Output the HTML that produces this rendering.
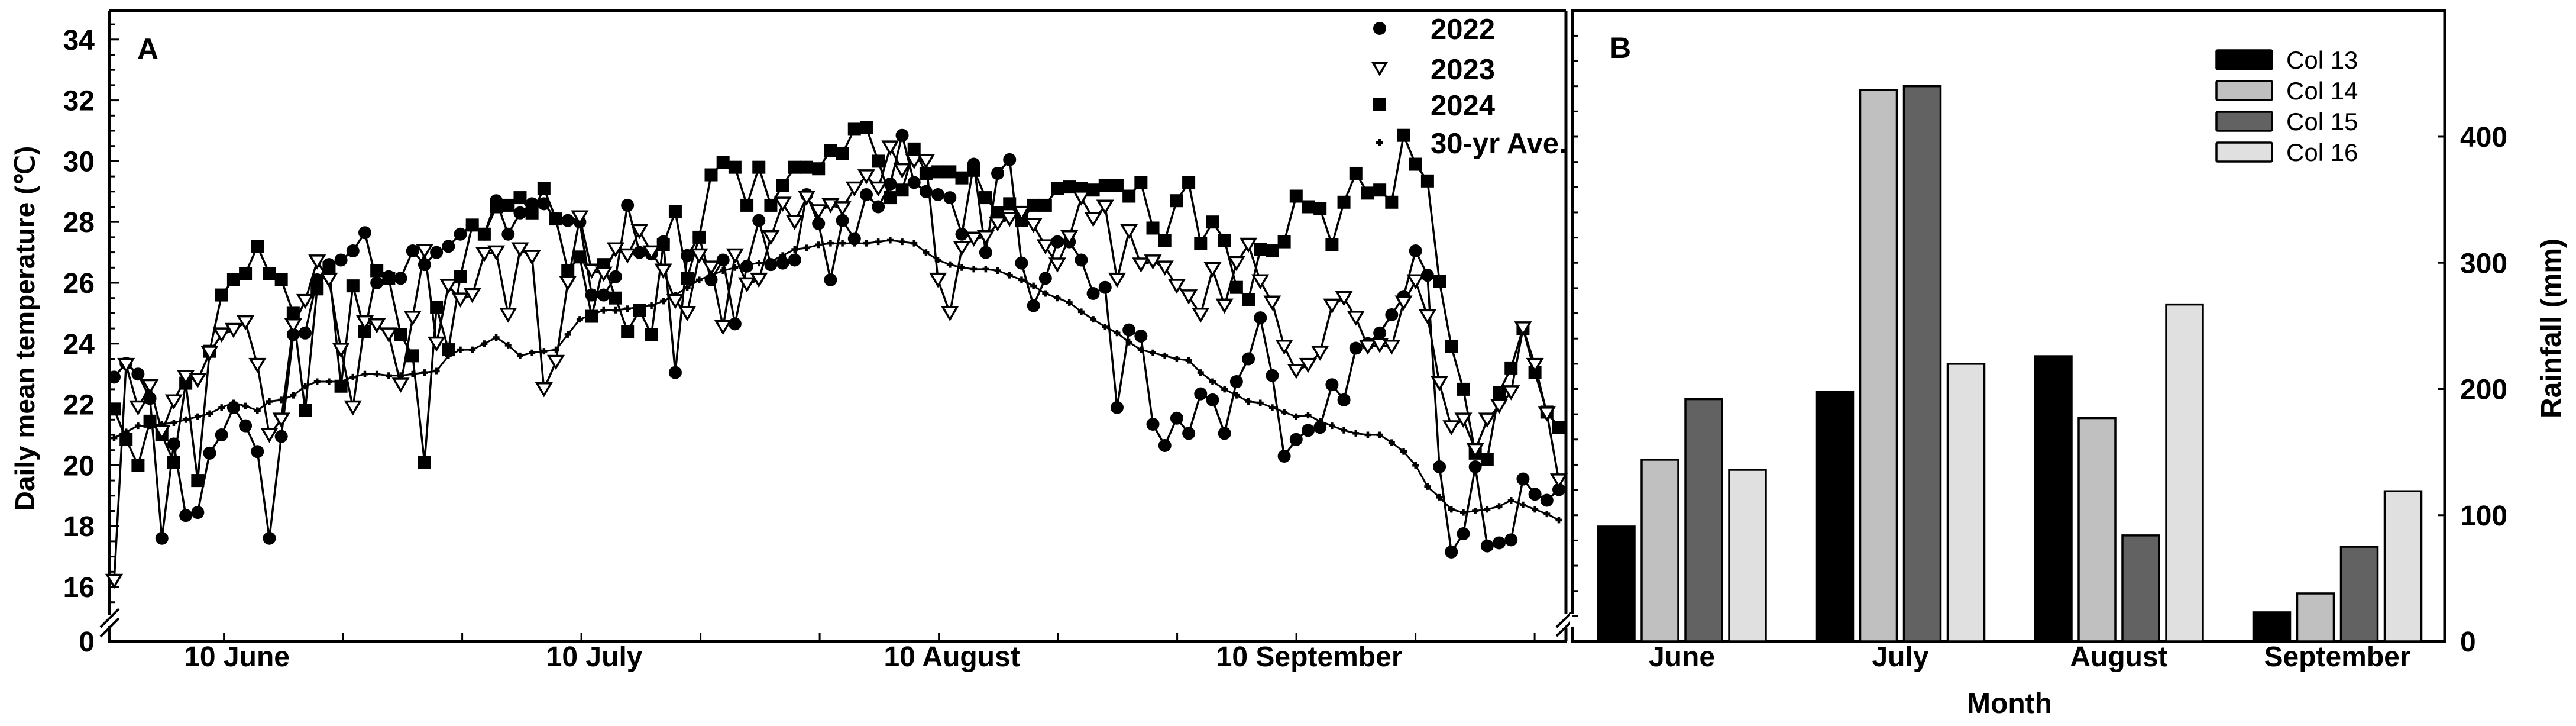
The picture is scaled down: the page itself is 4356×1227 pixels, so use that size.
<!DOCTYPE html>
<html><head><meta charset="utf-8"><style>
html,body{margin:0;padding:0;background:#fff;}
svg{display:block;font-family:"Liberation Sans",Arial,sans-serif;}
</style></head><body>
<svg id="chart" width="4356" height="1227" viewBox="0 0 4356 1227" xmlns="http://www.w3.org/2000/svg">
<g id="panelA"></g>
<g id="panelB"></g>
</svg>
<script>
// ---- Panel A data ----
const xTickLabels = ["10 June", "10 July", "10 August", "10 September"];
const yTicksA = [16, 18, 20, 22, 24, 26, 28, 30, 32, 34];
const t2022 = [22.9,23.35,23.0,22.2,17.6,20.7,18.35,18.45,20.4,21.0,21.9,21.3,20.45,17.6,20.95,24.3,24.35,26.1,26.6,26.75,27.05,27.65,26.0,26.2,26.15,27.05,26.6,27.0,27.2,27.6,27.9,27.6,28.7,27.6,28.3,28.6,28.6,28.1,28.05,28.0,25.6,25.6,26.2,28.55,27.0,26.95,27.35,23.05,26.9,27.5,26.1,26.75,24.65,26.55,28.05,26.6,26.65,26.75,28.9,27.95,26.1,28.05,27.45,28.9,28.5,29.25,30.85,29.3,29.0,28.9,28.8,27.6,29.9,27.0,29.6,30.05,26.65,25.25,26.15,27.35,27.35,26.75,25.65,25.85,21.9,24.45,24.25,21.35,20.65,21.55,21.05,22.35,22.15,21.05,22.75,23.5,24.85,22.95,20.3,20.85,21.15,21.25,22.65,22.15,23.85,24.0,24.35,24.95,25.55,27.05,26.25,19.95,17.15,17.75,19.95,17.35,17.45,17.55,19.55,19.05,18.85,19.2];
const t2023 = [16.2,23.3,21.9,22.6,21.1,22.1,22.9,22.8,23.7,24.3,24.45,24.7,23.3,21.0,21.5,24.6,25.4,26.7,26.1,23.8,21.9,24.7,24.6,24.3,22.65,24.85,27.05,24.0,25.9,25.45,25.6,26.95,27.0,24.95,27.1,26.85,22.5,23.4,26.0,28.15,26.4,26.3,27.1,26.9,27.7,27.0,26.4,25.4,25.0,26.9,26.5,24.55,26.9,25.95,26.1,27.5,28.6,28.0,28.8,28.35,28.55,28.45,29.1,29.5,29.1,30.45,29.7,30.0,30.0,26.1,25.0,27.15,27.45,27.5,27.95,28.1,28.3,27.9,27.2,26.6,27.5,28.8,28.1,28.5,26.1,27.7,26.6,26.7,26.5,25.9,25.55,24.95,26.45,25.25,26.65,27.25,26.05,25.35,23.9,23.1,23.3,23.7,25.25,25.5,24.85,23.9,23.95,23.9,25.35,26.05,24.9,22.7,21.25,21.5,20.5,21.5,21.95,22.4,24.5,23.3,21.7,19.5];
const t2024 = [21.85,20.85,20.0,21.45,21.0,20.1,22.7,19.5,23.75,25.6,26.1,26.3,27.2,26.3,26.1,25.0,21.8,25.8,26.5,22.6,25.9,24.4,26.4,26.15,24.3,23.6,20.1,25.2,23.8,26.2,27.9,27.6,28.5,28.55,28.8,28.3,29.1,28.1,26.4,26.85,24.9,26.6,25.5,24.4,25.1,24.3,27.25,28.35,26.15,27.5,29.55,29.95,29.8,28.55,29.8,28.55,29.2,29.8,29.8,29.75,30.35,30.25,31.05,31.1,30.0,28.8,29.05,30.4,29.6,29.65,29.65,29.45,29.7,28.8,28.3,28.6,28.05,28.55,28.55,29.1,29.15,29.1,29.05,29.2,29.2,28.85,29.3,27.8,27.4,28.7,29.3,27.3,28.0,27.4,25.85,25.45,27.1,27.05,27.35,28.85,28.5,28.45,27.25,28.65,29.6,28.95,29.05,28.65,30.85,29.9,29.35,26.05,23.9,22.5,20.4,20.2,22.4,23.2,24.5,23.05,21.75,21.25];
const tAve = [20.9,21.1,21.3,21.3,21.35,21.4,21.5,21.6,21.7,21.9,22.05,21.95,21.8,22.1,22.15,22.3,22.6,22.75,22.75,22.75,22.9,23.0,23.0,22.95,22.95,23.0,23.05,23.1,23.6,23.8,23.8,24.0,24.2,23.95,23.6,23.7,23.75,23.8,24.3,24.8,24.95,25.1,25.1,25.15,25.2,25.25,25.4,25.6,25.85,26.1,26.25,26.4,26.5,26.6,26.65,26.7,26.9,27.1,27.15,27.25,27.3,27.3,27.3,27.3,27.35,27.4,27.35,27.3,27.0,26.75,26.6,26.5,26.45,26.45,26.4,26.25,26.1,25.9,25.65,25.5,25.35,25.05,24.8,24.55,24.35,24.05,23.8,23.7,23.6,23.5,23.45,23.05,22.75,22.5,22.3,22.1,22.05,21.9,21.75,21.6,21.65,21.45,21.3,21.15,21.05,21.0,21.0,20.75,20.45,20.0,19.3,18.95,18.55,18.45,18.5,18.55,18.65,18.85,18.7,18.55,18.4,18.2];
const legendA = ["2022", "2023", "2024", "30-yr Ave."];

// ---- Panel B data ----
const months = ["June", "July", "August", "September"];
const seriesB = ["Col 13", "Col 14", "Col 15", "Col 16"];
const col13 = [91, 198, 226, 23];
const col14 = [144, 437, 177, 38];
const col15 = [192, 440, 84, 75];
const col16 = [136, 220, 267, 119];
const yTicksB = [0, 100, 200, 300, 400];

const NS = "http://www.w3.org/2000/svg";
function mk(parent, tag, attrs, text) {
  const e = document.createElementNS(NS, tag);
  for (const k in attrs) e.setAttribute(k, attrs[k]);
  if (text !== undefined) e.textContent = text;
  parent.appendChild(e);
  return e;
}

// ---------- Panel A ----------
const A = document.getElementById('panelA');
const AL = 185, AR = 2648, AT = 18, AB = 1084;
const xA = i => 193 + i * 20.19;
const yA = t => 992 - (t - 16) * 51.4;

// frame
let el;
el = mk(A, 'line', {x1: AL, y1: AT, x2: AR, y2: AT, stroke: '#000', 'stroke-width': 5});


el = mk(A, 'line', {x1: AR, y1: AT, x2: AR, y2: 1038, stroke: '#000', 'stroke-width': 5});


el = mk(A, 'line', {x1: AR, y1: 1062, x2: AR, y2: AB, stroke: '#000', 'stroke-width': 5});


el = mk(A, 'line', {x1: AL, y1: AT, x2: AL, y2: 1040, stroke: '#000', 'stroke-width': 5});


el = mk(A, 'line', {x1: AL, y1: 1058, x2: AL, y2: AB, stroke: '#000', 'stroke-width': 5});


el = mk(A, 'line', {x1: AL - 2, y1: AB, x2: AR + 2, y2: AB, stroke: '#000', 'stroke-width': 5});


// axis breaks
el = mk(A, 'path', {d: 'M170 1060 L201 1029 M170 1076 L201 1045', stroke: '#000', 'stroke-width': 4, fill: 'none'});


el = mk(A, 'path', {d: 'M2632 1060 L2660 1033 M2632 1075 L2660 1048', stroke: '#000', 'stroke-width': 4, fill: 'none'});



// y ticks
for (let t = 15.5; t <= 34.51; t += 0.5) {
  const major = Math.abs(t - Math.round(t)) < 0.01 && Math.round(t) % 2 === 0;
  el = mk(A, 'line', {x1: AL, y1: yA(t), x2: AL + (major ? 16 : 10), y2: yA(t), stroke: '#000', 'stroke-width': 3});
  
  
}
yTicksA.forEach(v => {
  el = mk(A, 'text', {x: 160, y: yA(v) + 17, 'text-anchor': 'end', 'font-size': 48, 'font-weight': 'bold'}, String(v));
  
  
});
el = mk(A, 'text', {x: 160, y: AB + 17, 'text-anchor': 'end', 'font-size': 48, 'font-weight': 'bold'}, '0');


// x ticks
for (let k = 0; k < 12; k++) {
  const x = 378.6 + k * 201.5;
  el = mk(A, 'line', {x1: x, y1: AB, x2: x, y2: AB - 15, stroke: '#000', 'stroke-width': 3});
  
  
}
xTickLabels.forEach((lab, j) => {
  const x = 378.6 + j * 3 * 201.5 + 22;
  el = mk(A, 'text', {x: x, y: 1126, 'text-anchor': 'middle', 'font-size': 48, 'font-weight': 'bold'}, lab);
  
  
});
el = mk(A, 'text', {x: 0, y: 0, 'text-anchor': 'middle', 'font-size': 46, 'font-weight': 'bold', transform: 'translate(58,555) rotate(-90)'}, 'Daily mean temperature (℃)');


el = mk(A, 'text', {x: 232, y: 100, 'font-size': 50, 'font-weight': 'bold'}, 'A');



function line(parent, data, w, name) {
  const pts = data.map((v, i) => xA(i).toFixed(1) + ',' + yA(v).toFixed(1)).join(' ');
  const p = mk(parent, 'polyline', {points: pts, fill: 'none', stroke: '#000', 'stroke-width': w, 'stroke-linejoin': 'round'});
  
  
}
function circle(g, x, y, r) {
  const c = mk(g, 'circle', {cx: x, cy: y, r: r, fill: '#000'});
  
  
}
function tri(g, x, y, s, name) {
  const h = s * 0.85;
  const t = mk(g, 'polygon', {points: `${x - s / 2},${y - h / 2} ${x + s / 2},${y - h / 2} ${x},${y + h / 2}`, fill: '#fff', stroke: '#000', 'stroke-width': 3.5});
  
  
}
function sq(g, x, y, s, name) {
  const r = mk(g, 'rect', {x: x - s / 2, y: y - s / 2, width: s, height: s, fill: '#000'});
  
  
}
function plus(g, x, y, s, name) {
  const p = mk(g, 'path', {d: `M${x - s / 2} ${y} H${x + s / 2} M${x} ${y - s / 2} V${y + s / 2}`, stroke: '#000', 'stroke-width': 4.5});
  
  
}

const gAve = mk(A, 'g', {});


line(gAve, tAve, 3, 'line-30yr-ave');
tAve.forEach((v, i) => plus(gAve, xA(i), yA(v), 11, 'point-30yr-ave'));

const g22 = mk(A, 'g', {});


line(g22, t2022, 3.5, 'line-2022');
t2022.forEach((v, i) => circle(g22, xA(i), yA(v), 11));

const g24 = mk(A, 'g', {});


line(g24, t2024, 3.5, 'line-2024');
t2024.forEach((v, i) => sq(g24, xA(i), yA(v), 22, 'point-2024'));

const g23 = mk(A, 'g', {});


line(g23, t2023, 3.5, 'line-2023');
t2023.forEach((v, i) => tri(g23, xA(i), yA(v), 24, 'point-2023'));

// legend A
const gLA = mk(A, 'g', {});


const legY = [48, 116, 177, 241];
circle(gLA, 2333, legY[0], 11);
tri(gLA, 2333, legY[1], 22, 'legend-marker-2023');
sq(gLA, 2333, legY[2], 22, 'legend-marker-2024');
plus(gLA, 2333, legY[3], 12, 'legend-marker-ave');
legendA.forEach((lab, j) => {
  el = mk(gLA, 'text', {x: 2419, y: legY[j] + 18, 'font-size': 49, 'font-weight': 'bold'}, lab);
  
  
});

// ---------- Panel B ----------
const B = document.getElementById('panelB');
const BL = 2659, BR = 4134, BT = 18, BB = 1084;
const yB = v => BB - v * 2.1325;
const groupLeft = m => 2702 + m * 369.5;
const barW = 62, barStep = 74;

el = mk(B, 'rect', {x: BL, y: BT, width: BR - BL, height: BB - BT, fill: 'none', stroke: '#000', 'stroke-width': 5});


el = mk(B, 'rect', {x: BL - 4, y: 1038, width: 8, height: 22, fill: '#fff'});


// minor ticks on left (every 20mm)
for (let v = 20; v <= 480; v += 20) {
  if (yB(v) < BT + 10) break;
  el = mk(B, 'line', {x1: BL, y1: yB(v), x2: BL + 10, y2: yB(v), stroke: '#000', 'stroke-width': 3});
  
  
}
yTicksB.forEach(v => {
  el = mk(B, 'line', {x1: BR, y1: yB(v), x2: BR - 12, y2: yB(v), stroke: '#000', 'stroke-width': 3});
  
  
  el = mk(B, 'text', {x: 4160, y: yB(v) + 17, 'font-size': 48, 'font-weight': 'bold'}, String(v));
  
  
});
el = mk(B, 'text', {x: 0, y: 0, 'text-anchor': 'middle', 'font-size': 48, 'font-weight': 'bold', transform: 'translate(4330,555) rotate(-90)'}, 'Rainfall (mm)');


el = mk(B, 'text', {x: 2722, y: 98, 'font-size': 50, 'font-weight': 'bold'}, 'B');



const fills = ['#000000', '#c0c0c0', '#626262', '#e0e0e0'];
const allB = [col13, col14, col15, col16];
const bars = mk(B, 'g', {});


months.forEach((m, mi) => {
  allB.forEach((arr, si) => {
    const x = groupLeft(mi) + si * barStep;
    const r = mk(bars, 'rect', {x: x, y: yB(arr[mi]), width: barW, height: BB - yB(arr[mi]), fill: fills[si], stroke: '#000', 'stroke-width': 3.5});
    
    
  });
  el = mk(B, 'text', {x: groupLeft(mi) + (3 * barStep + barW) / 2, y: 1126, 'text-anchor': 'middle', 'font-size': 48, 'font-weight': 'bold'}, m);
  
  
});
el = mk(B, 'text', {x: 3398, y: 1205, 'text-anchor': 'middle', 'font-size': 48, 'font-weight': 'bold'}, 'Month');



const gLB = mk(B, 'g', {});


seriesB.forEach((s, j) => {
  const y = 85 + j * 52;
  el = mk(gLB, 'rect', {x: 3748, y: y, width: 94, height: 32, fill: fills[j], stroke: '#000', 'stroke-width': 3.5, rx: 2});
  
  
  el = mk(gLB, 'text', {x: 3866, y: y + 31, 'font-size': 42}, s);
  
  
});
</script>
</body></html>
